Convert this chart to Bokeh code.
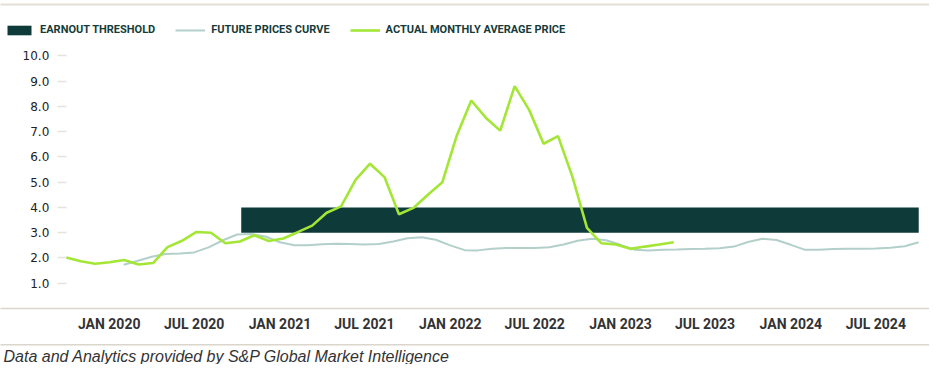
import pandas as pd
from bokeh.plotting import figure
from bokeh.models import (ColumnDataSource, FixedTicker, NumeralTickFormatter, LinearAxis,
                          Legend, LegendItem, Range1d, Label, Grid)
from bokeh.layouts import column
from bokeh.embed import file_html
from bokeh.resources import INLINE

# ---------------- data ----------------
actual_dates = ["2019-10-01", "2019-11-01", "2019-12-02", "2020-01-02", "2020-02-02", "2020-03-04",
                "2020-04-04", "2020-05-05", "2020-06-05", "2020-07-06", "2020-08-06", "2020-09-06",
                "2020-10-07", "2020-11-07", "2020-12-08", "2021-01-08", "2021-02-08", "2021-03-11",
                "2021-04-11", "2021-05-12", "2021-06-12", "2021-07-13", "2021-08-13", "2021-09-13",
                "2021-10-14", "2021-11-14", "2021-12-15", "2022-01-15", "2022-02-15", "2022-03-18",
                "2022-04-18", "2022-05-19", "2022-06-19", "2022-07-20", "2022-08-20", "2022-09-20",
                "2022-10-21", "2022-11-21", "2022-12-22", "2023-01-22", "2023-02-22", "2023-03-25",
                "2023-04-25"]
actual_price = [2.02, 1.87, 1.77, 1.83, 1.92, 1.74, 1.80, 2.43, 2.68, 3.03, 3.00, 2.58,
                2.65, 2.90, 2.67, 2.77, 3.02, 3.28, 3.79, 4.04, 5.09, 5.73, 5.20, 3.73,
                3.98, 4.50, 5.00, 6.85, 8.23, 7.55, 7.04, 8.80, 7.86, 6.52, 6.82, 5.20,
                3.19, 2.58, 2.53, 2.36, 2.45, 2.53, 2.62]

future_months = pd.date_range("2020-02-01", "2024-10-01", freq="MS")
future_price = [1.73, 1.88, 2.05, 2.16, 2.18, 2.22, 2.42, 2.70, 2.93, 2.95, 2.85, 2.62,
                2.50, 2.50, 2.54, 2.56, 2.55, 2.53, 2.55, 2.65, 2.78, 2.82, 2.72, 2.50,
                2.31, 2.30, 2.36, 2.39, 2.39, 2.39, 2.42, 2.53, 2.68, 2.76, 2.70, 2.52,
                2.32, 2.30, 2.32, 2.33, 2.35, 2.36, 2.38, 2.45, 2.63, 2.76, 2.71, 2.52,
                2.32, 2.32, 2.35, 2.36, 2.36, 2.37, 2.40, 2.46, 2.62]

threshold_start = ["2020-10-10"]
threshold_end = ["2024-10-01"]
threshold_low = [3.0]
threshold_high = [4.0]

x_tick_dates = ["2020-01-01", "2020-07-01", "2021-01-01", "2021-07-01", "2022-01-01",
                "2022-07-01", "2023-01-01", "2023-07-01", "2024-01-01", "2024-07-01"]
x_tick_labels = ["JAN 2020", "JUL 2020", "JAN 2021", "JUL 2021", "JAN 2022",
                 "JUL 2022", "JAN 2023", "JUL 2023", "JAN 2024", "JUL 2024"]
y_ticks = [1, 2, 3, 4, 5, 6, 7, 8, 9, 10]

legend_labels = ["EARNOUT THRESHOLD", "FUTURE PRICES CURVE", "ACTUAL MONTHLY AVERAGE PRICE"]
footer_text = "Data and Analytics provided by S&P Global Market Intelligence"

# ---------------- styling ----------------
DARK = "#0f3a3a"
FUTURE = "#b3cfca"
GREEN = "#a3e635"
RULE = "#dbd6cb"
HEAD = "Roboto"

W = 929


def ms(d):
    return int(pd.Timestamp(d).value // 10**6)


DAY = 86400000
px_per_day = 0.46659
x0 = ms("2020-01-01") - (108.7 / px_per_day) * DAY
x1 = x0 + (W / px_per_day) * DAY

p = figure(width=W, height=344, x_axis_type="datetime",
           x_range=Range1d(x0, x1), y_range=Range1d(0, 12.03),
           y_axis_location=None, output_backend="svg", toolbar_location=None,
           min_border_left=0, min_border_right=0, min_border_top=4, min_border_bottom=36,
           outline_line_color=None, background_fill_color="white", border_fill_color="white")
for g in p.select(type=Grid):
    g.visible = False

bar_src = ColumnDataSource(dict(left=[pd.Timestamp(d) for d in threshold_start],
                                right=[pd.Timestamp(d) for d in threshold_end],
                                bottom=threshold_low, top=threshold_high))
bar = p.quad(left="left", right="right", bottom="bottom", top="top", source=bar_src,
             fill_color=DARK, line_color=None)

fut_src = ColumnDataSource(dict(x=list(future_months), y=future_price))
fut = p.line("x", "y", source=fut_src, line_color=FUTURE, line_width=2)

act_src = ColumnDataSource(dict(x=[pd.Timestamp(d) for d in actual_dates], y=actual_price))
act = p.line("x", "y", source=act_src, line_color=GREEN, line_width=2.6)

# x axis
xa = p.xaxis[0]
tick_ms = [ms(d) for d in x_tick_dates]
xa.ticker = FixedTicker(ticks=tick_ms)
xa.major_label_overrides = dict(zip(tick_ms, x_tick_labels))
xa.axis_line_color = RULE
xa.axis_line_width = 1.5
xa.major_tick_line_color = None
xa.minor_tick_line_color = None
xa.major_label_standoff = 1
xa.major_label_text_font = HEAD
xa.major_label_text_font_style = "bold"
xa.major_label_text_font_size = "14px"
xa.major_label_text_color = "#333333"

# top rule
top_rule = LinearAxis(ticker=FixedTicker(ticks=[]), axis_line_color="#e3dfd6", axis_line_width=2,
                      major_tick_line_color=None, minor_tick_line_color=None)
p.add_layout(top_rule, "above")

# y axis drawn inside the frame
ya = LinearAxis(fixed_location=ms("2019-10-01"), ticker=FixedTicker(ticks=y_ticks),
                formatter=NumeralTickFormatter(format="0.0"),
                axis_line_color=None, major_tick_out=9, major_tick_in=0,
                major_tick_line_color="#e6e3dc", major_tick_line_width=1.5,
                minor_tick_line_color=None, major_label_standoff=8,
                major_label_text_font="DejaVu Sans", major_label_text_font_size="12px",
                major_label_text_color="#222222")
p.add_layout(ya, "left")

legend = Legend(items=[LegendItem(label=legend_labels[0], renderers=[bar]),
                       LegendItem(label=legend_labels[1], renderers=[fut]),
                       LegendItem(label=legend_labels[2], renderers=[act])],
                orientation="horizontal", location=(4, 272),
                glyph_width=30, glyph_height=12, label_standoff=6, spacing=20,
                padding=0, margin=0, border_line_color=None, background_fill_alpha=0,
                label_text_font=HEAD, label_text_font_style="bold",
                label_text_font_size="11px", label_text_color="#143c3a")
p.add_layout(legend)

# footer
f = figure(width=W, height=20, x_range=p.x_range, y_range=Range1d(0, 1),
           x_axis_location=None, y_axis_location=None,
           output_backend="svg", toolbar_location=None,
           min_border_left=0, min_border_right=0, min_border_top=0, min_border_bottom=0,
           outline_line_color=None, background_fill_color="white", border_fill_color="white")
for g in f.select(type=Grid):
    g.visible = False
f_rule = LinearAxis(ticker=FixedTicker(ticks=[]), axis_line_color=RULE, axis_line_width=2,
                    major_tick_line_color=None, minor_tick_line_color=None)
f.add_layout(f_rule, "above")
f.add_layout(Label(x=3, y=8, x_units="screen", y_units="screen", text=footer_text,
                   text_font="Liberation Sans", text_font_style="italic",
                   text_font_size="16px", text_color="#333333", text_baseline="middle"))

layout = column(p, f, spacing=0)
open("out.html", "w").write(file_html(layout, INLINE))
